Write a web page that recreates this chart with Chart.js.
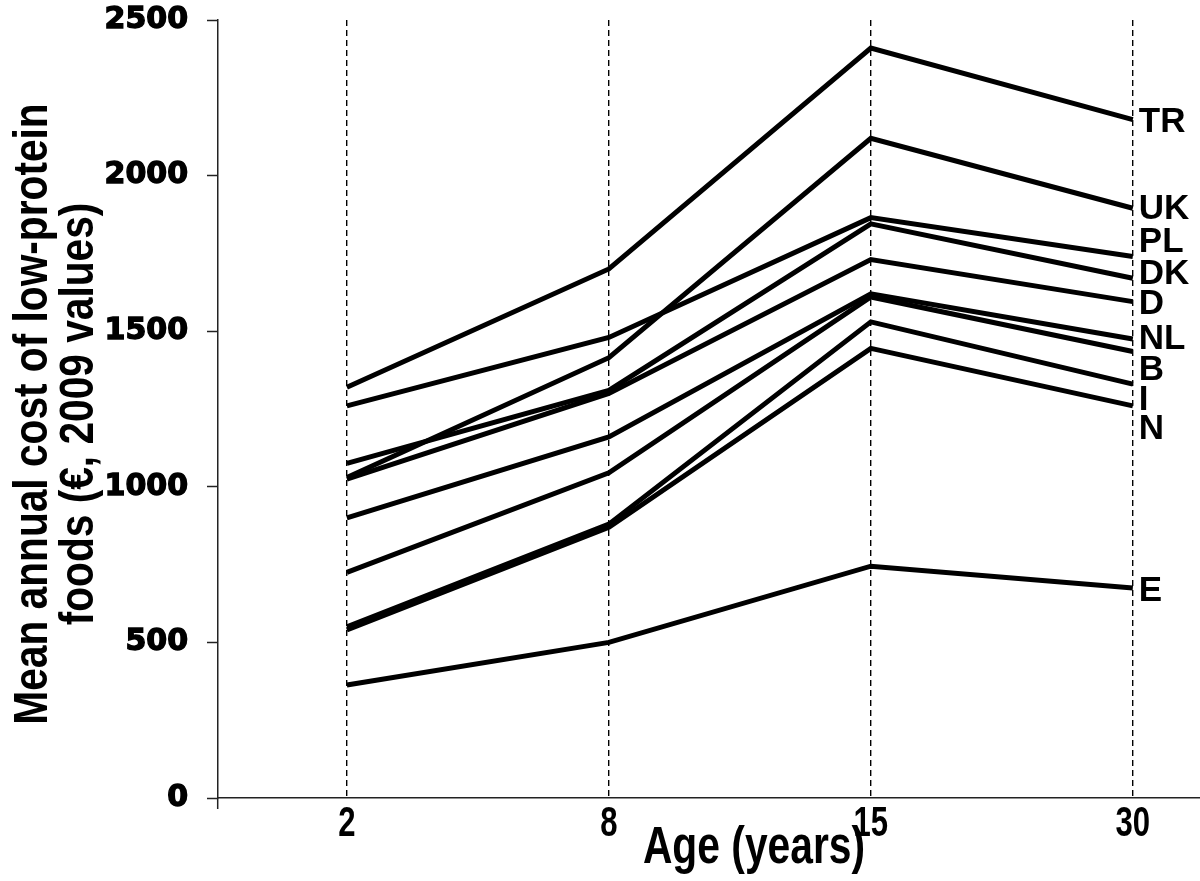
<!DOCTYPE html>
<html><head><meta charset="utf-8">
<script src="https://cdn.jsdelivr.net/npm/chart.js@4/dist/chart.umd.min.js"></script>
<style>
html,body{margin:0;padding:0;background:#fff;overflow:hidden}
#wrap{width:1200px;height:881px;overflow:hidden;position:relative;background:#fff}
canvas{display:block}
</style></head><body>
<div id="wrap"><canvas id="c" width="1290" height="881"></canvas></div>
<script>
// ---- data ----
const ages = ['2', '8', '15', '30'];
const countries = ['TR', 'UK', 'PL', 'DK', 'D', 'NL', 'B', 'I', 'N', 'E'];
const TR = [1320, 1700, 2410, 2180];
const UK = [1030, 1415, 2120, 1895];
const PL = [1260, 1480, 1865, 1740];
const DK = [1075, 1310, 1845, 1670];
const D  = [1025, 1300, 1730, 1595];
const NL = [900, 1160, 1620, 1475];
const B  = [725, 1045, 1610, 1435];
const I  = [550, 880, 1530, 1330];
const N  = [540, 870, 1445, 1260];
const E  = [363, 500, 745, 675];
const labelLevels = [2175, 1896, 1790, 1687, 1591, 1478, 1379, 1282, 1189, 668];
const yTicks = [0, 500, 1000, 1500, 2000, 2500];
const yTitle = ['Mean annual cost of low-protein', 'foods (\u20AC, 2009 values)'];
const xTitle = 'Age (years)';

const series = [TR, UK, PL, DK, D, NL, B, I, N, E];
const BOLD = "'Liberation Sans', Arial, sans-serif";

const datasets = series.map((vals, k) => ({
  label: countries[k],
  data: vals.map((v, i) => ({x: i, y: v})),
  borderColor: '#000',
  borderWidth: 5,
  pointRadius: 0,
  fill: false,
  tension: 0,
  borderJoinStyle: 'miter',
  borderCapStyle: 'butt'
}));

// narrow (condensed) text helper
function narrowText(ctx, text, x, y, size, rot, align, sx) {
  ctx.save();
  ctx.translate(x, y);
  if (rot) ctx.rotate(rot);
  ctx.scale(sx, 1);
  ctx.font = 'bold ' + size + 'px ' + BOLD;
  ctx.textAlign = align;
  ctx.textBaseline = 'alphabetic';
  ctx.fillStyle = '#000';
  ctx.fillText(text, 0, 0);
  ctx.restore();
}

const textLayer = {
  id: 'textLayer',
  afterDraw(chart) {
    const ctx = chart.ctx;
    const xs = chart.scales.x, ys = chart.scales.y;
    // series labels at the right end
    ctx.save();
    ctx.fillStyle = '#000';
    ctx.font = 'bold 35px ' + BOLD;
    ctx.textBaseline = 'middle';
    ctx.textAlign = 'left';
    countries.forEach((c, k) => {
      ctx.fillText(c, xs.getPixelForValue(ages.length - 1) + 6, ys.getPixelForValue(labelLevels[k]) + 1);
    });
    ctx.restore();
    // x tick labels (condensed bold)
    ages.forEach((a, i) => {
      narrowText(ctx, a, xs.getPixelForValue(i), ys.bottom + 38, 42, 0, 'center', 0.74);
    });
    // x axis title
    narrowText(ctx, xTitle, (xs.left + xs.right) / 2, ys.bottom + 65, 51, 0, 'center', 0.8);
    // y axis title (two rotated lines)
    const cy = (ys.top + ys.bottom) / 2 + 5;
    narrowText(ctx, yTitle[0], 47, cy, 49, -Math.PI / 2, 'center', 0.83);
    narrowText(ctx, yTitle[1], 93, cy, 49, -Math.PI / 2, 'center', 0.83);
  }
};

new Chart(document.getElementById('c'), {
  type: 'line',
  data: {datasets},
  plugins: [textLayer],
  options: {
    responsive: false,
    animation: false,
    devicePixelRatio: 1,
    layout: {padding: {top: 20, left: 0, right: 0, bottom: 0}},
    plugins: {legend: {display: false}, tooltip: {enabled: false}},
    scales: {
      x: {
        type: 'linear',
        min: -0.492,
        max: 3.6,
        afterBuildTicks: s => { s.ticks = [s.min, 0, 1, 2, 3].map(v => ({value: v})); },
        afterFit: s => { s.height = 83; s.paddingLeft = 0; s.paddingRight = 0; },
        grid: {
          color: c => c.index === 0 ? 'rgba(0,0,0,0)' : '#000',
          lineWidth: 1.4,
          tickColor: c => c.index === 0 ? '#222' : 'rgba(0,0,0,0)',
          tickLength: 11,
          tickWidth: 1.5,
          drawTicks: true
        },
        border: {display: true, color: '#222', width: 1.5, dash: [6, 4]},
        ticks: {display: false, autoSkip: false, maxRotation: 0}
      },
      y: {
        min: 0,
        max: 2500,
        afterBuildTicks: s => { s.ticks = yTicks.map(v => ({value: v})); },
        afterFit: s => { s.width = 218; s.paddingTop = 0; s.paddingBottom = 0; },
        grid: {drawOnChartArea: false, drawTicks: true, tickLength: 11, tickColor: '#222', tickWidth: 1.5},
        border: {display: true, color: '#222', width: 1.5},
        ticks: {
          padding: 19, color: '#000',
          textStrokeColor: '#000', textStrokeWidth: 1.4,
          font: {family: "'DejaVu Sans', sans-serif", weight: 'bold', size: 30},
          callback: v => String(v)
        }
      }
    }
  }
});
</script>
</body></html>
